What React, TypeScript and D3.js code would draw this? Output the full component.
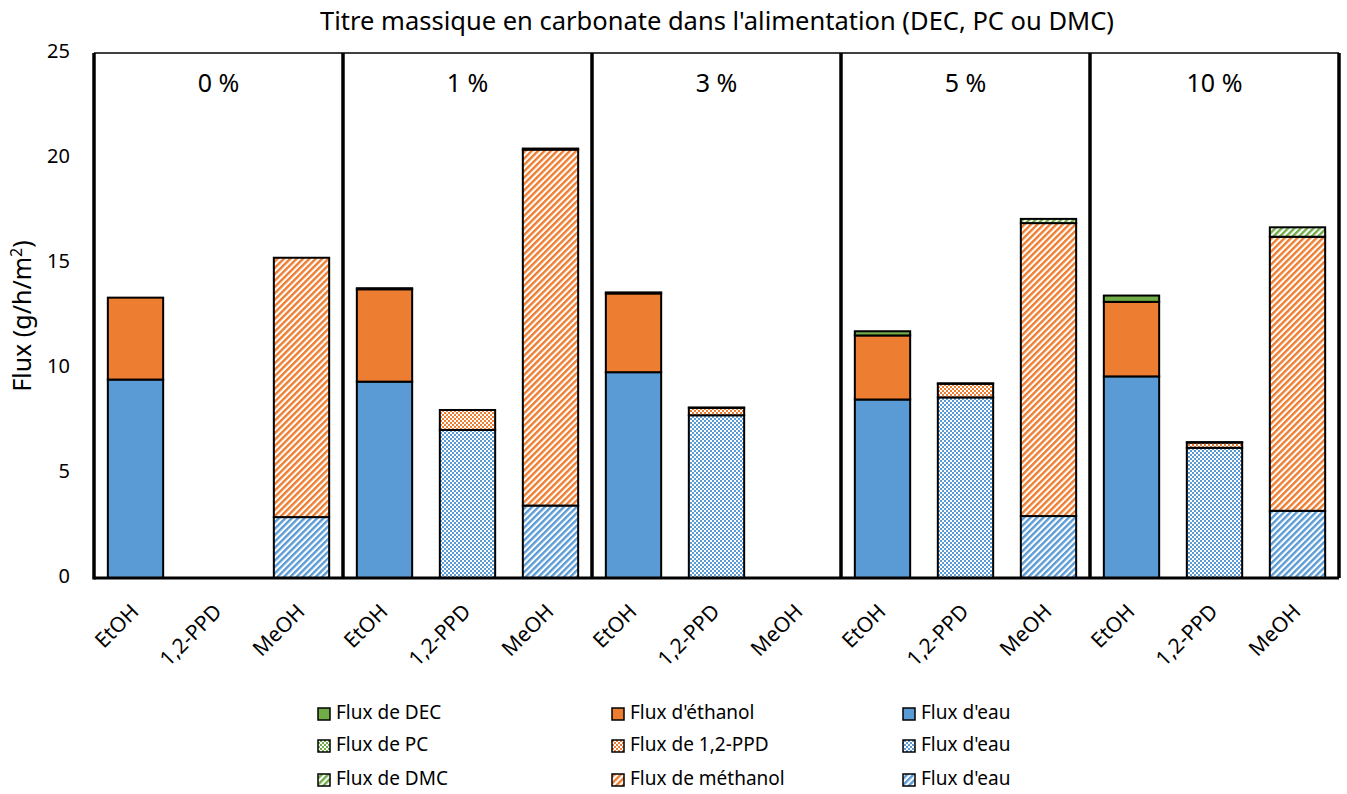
import React from "react";
import * as d3 from "d3";

const groups = ["0 %", "1 %", "3 %", "5 %", "10 %"];
const solvents = ["EtOH", "1,2-PPD", "MeOH"];
// per category, group-major (group0: EtOH, PPD, MeOH, group1: ...)
const waterFlux = [9.45, 0, 2.9, 9.35, 7.05, 3.45, 9.8, 7.75, 0, 8.5, 8.6, 2.95, 9.6, 6.2, 3.2];
const alcoholFlux = [3.9, 0, 12.35, 4.4, 0.95, 16.95, 3.75, 0.35, 0, 3.05, 0.65, 13.95, 3.55, 0.25, 13.05];
const carbonateFlux = [0, 0, 0, 0.05, 0, 0.05, 0.05, 0.02, 0, 0.2, 0.02, 0.2, 0.3, 0.02, 0.45];
const yTicks = [0, 5, 10, 15, 20, 25];
const legendRows = [
  ["Flux de DEC", "Flux d'éthanol", "Flux d'eau"],
  ["Flux de PC", "Flux de 1,2-PPD", "Flux d'eau"],
  ["Flux de DMC", "Flux de méthanol", "Flux d'eau"],
];
const title = "Titre massique en carbonate dans l'alimentation (DEC, PC ou DMC)";
const yLabel = "Flux (g/h/m";

const GREEN = "#70AD47";
const ORANGE = "#ED7D31";
const BLUE = "#5B9BD5";
const seriesColors = [BLUE, ORANGE, GREEN]; // water, alcohol, carbonate (stack order)
const FONT = "'Noto Sans', 'Open Sans', sans-serif";

export default function App() {
  const W = 1347, H = 794;
  const left = 94, right = 1339, top = 53, bottom = 578;
  const n = groups.length * solvents.length;
  const idx = d3.range(n);
  const x = d3.scaleBand<number>().domain(idx).range([left, right]).paddingInner(1 / 3).paddingOuter(1 / 6);
  const y = d3.scaleLinear().domain([0, 25]).range([bottom, top]);

  const rows = idx.map((i) => ({ i, water: waterFlux[i], alcohol: alcoholFlux[i], carbonate: carbonateFlux[i] }));
  const stack = d3.stack<any>().keys(["water", "alcohol", "carbonate"]);
  const stacked = stack(rows);

  const fillFor = (seriesIdx: number, solventIdx: number) => {
    const c = seriesColors[seriesIdx];
    if (solventIdx === 0) return c;
    if (solventIdx === 1) return `url(#chk-${seriesIdx})`;
    return `url(#str-${seriesIdx})`;
  };

  const groupW = x.step() * solvents.length;
  const legendX = [318, 612, 903];
  const legendY = [714, 746, 780];
  const legendSeries = [2, 1, 0];

  return (
    <svg width={W} height={H} style={{ position: "absolute", left: 0, top: 0, background: "#fff" }} fontFamily={FONT}>
      <defs>
        {seriesColors.map((c, s) => (
          <React.Fragment key={s}>
            <pattern id={`chk-${s}`} width={4} height={4} patternUnits="userSpaceOnUse">
              <rect width={4} height={4} fill="#fff" />
              <rect x={0} y={0} width={2} height={2} fill={c} />
              <rect x={2} y={2} width={2} height={2} fill={c} />
            </pattern>
            <pattern id={`str-${s}`} width={4.5} height={4.5} patternUnits="userSpaceOnUse" patternTransform="rotate(45)">
              <rect width={4.5} height={4.5} fill="#fff" />
              <rect x={0} y={0} width={2.4} height={4.5} fill={c} />
            </pattern>
          </React.Fragment>
        ))}
      </defs>
      <rect width={W} height={H} fill="#fff" />
      <text x={717} y={30} textAnchor="middle" fontSize={25.5} fill="#000">{title}</text>

      {/* top border */}
      <line x1={left} x2={right} y1={top} y2={top} stroke="#000" strokeWidth={1.5} />

      {/* bars */}
      {stacked.map((layer, s) =>
        layer.map((d, i) => {
          const v = d[1] - d[0];
          if (v <= 0) return null;
          const solventIdx = i % solvents.length;
          return (
            <rect
              key={`${s}-${i}`}
              x={x(i)}
              width={x.bandwidth()}
              y={y(d[1])}
              height={y(d[0]) - y(d[1])}
              fill={fillFor(s, solventIdx)}
              stroke="#000"
              strokeWidth={2}
            />
          );
        })
      )}

      {/* separators */}
      {d3.range(1, groups.length + 1).map((k) => (
        <line key={k} x1={left + k * groupW} x2={left + k * groupW} y1={top} y2={bottom} stroke="#000" strokeWidth={3.5} />
      ))}
      {/* axes */}
      <line x1={left} x2={left} y1={top} y2={bottom + 1.5} stroke="#000" strokeWidth={3.5} />
      <line x1={left} x2={right} y1={bottom} y2={bottom} stroke="#000" strokeWidth={3} />

      {/* group labels */}
      {groups.map((g, k) => (
        <text key={g} x={left + k * groupW + groupW / 2} y={92} textAnchor="middle" fontSize={25} fill="#000">{g}</text>
      ))}

      {/* y ticks */}
      {yTicks.map((t) => (
        <text key={t} x={70} y={y(t)} textAnchor="end" dominantBaseline="middle" fontSize={20} fill="#000">{t}</text>
      ))}
      <text transform="translate(31,316) rotate(-90)" textAnchor="middle" fontSize={25} fill="#000">
        {yLabel}
        <tspan dy={-9} fontSize={16}>2</tspan>
        <tspan dy={9}>)</tspan>
      </text>

      {/* x labels */}
      {idx.map((i) => {
        const cx = (x(i) as number) + x.bandwidth() / 2 + 4.5;
        const cy = 613;
        return (
          <text key={i} x={cx} y={cy} transform={`rotate(-45 ${cx} ${cy})`} textAnchor="end" fontSize={21} fill="#000">
            {solvents[i % solvents.length]}
          </text>
        );
      })}

      {/* legend */}
      {legendRows.map((row, r) =>
        row.map((label, c) => (
          <g key={`${r}-${c}`}>
            <rect x={legendX[c]} y={legendY[r] - 6} width={12} height={12} fill={fillFor(legendSeries[c], r)} stroke="#000" strokeWidth={1.5} />
            <text x={legendX[c] + 18} y={legendY[r]} dominantBaseline="middle" fontSize={19} fill="#000">{label}</text>
          </g>
        ))
      )}
    </svg>
  );
}
